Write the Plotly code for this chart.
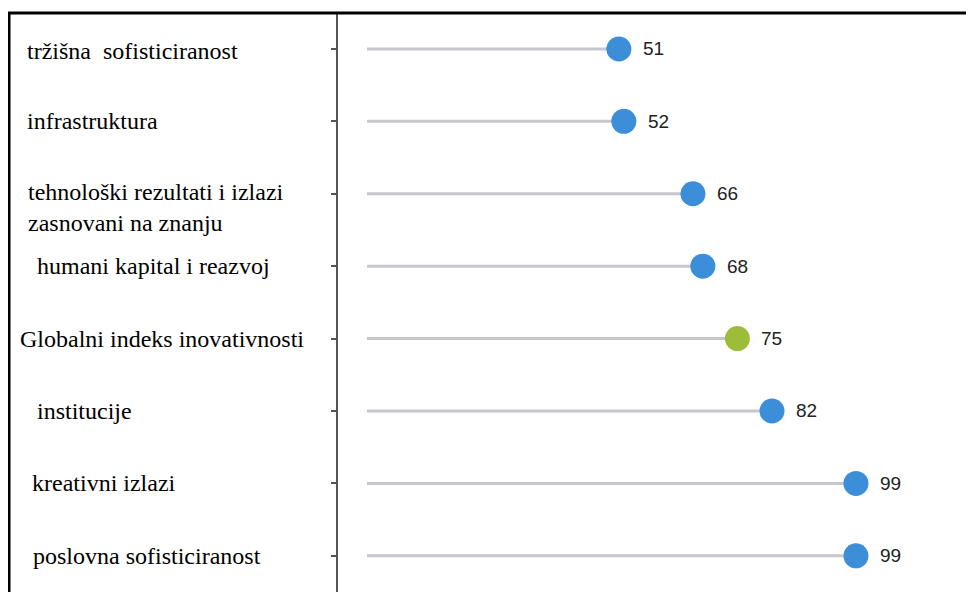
import plotly.graph_objects as go

# Datos del gráfico
categorias = [
    "tržišna  sofisticiranost",
    "infrastruktura",
    "tehnološki rezultati i izlazi<br>zasnovani na znanju",
    "humani kapital i reazvoj",
    "Globalni indeks inovativnosti",
    "institucije",
    "kreativni izlazi",
    "poslovna sofisticiranost",
]
valores = [51, 52, 66, 68, 75, 82, 99, 99]
destacado = "Globalni indeks inovativnosti"

AZUL = "#3d8ed8"
VERDE = "#9dbd3a"
GRIS_LINEA = "#c6c6cf"

# la página tiene 8 px de margen en el body
OFF = 8
ANCHO, ALTO = 974 - OFF, 592 - OFF
M_IZQ, M_SUP = 338 - OFF, 14 - OFF
ANCHO_AREA = ANCHO - M_IZQ
ALTO_AREA = ALTO - M_SUP


def px(x):
    return (x - OFF - M_IZQ) / ANCHO_AREA


def py(y):
    return 1 - (y - OFF - M_SUP) / ALTO_AREA


# sangría de cada etiqueta (px) respecto al margen izquierdo
sangria = [0, 0, 1, 10, -7, 10, 5, 6]
desplaz_y = [-2, 0, -14, 0, 0, 0, 0, 0]

fig = go.Figure()

# Líneas (palitos)
xs, ys = [], []
for c, v in zip(categorias, valores):
    xs += [0, v, None]
    ys += [c, c, None]
fig.add_trace(
    go.Scatter(
        x=xs,
        y=ys,
        mode="lines",
        line=dict(color=GRIS_LINEA, width=3),
        hoverinfo="skip",
        showlegend=False,
    )
)

# Puntos
colores = [VERDE if c == destacado else AZUL for c in categorias]
fig.add_trace(
    go.Scatter(
        x=valores,
        y=categorias,
        mode="markers",
        marker=dict(size=25, color=colores),
        showlegend=False,
    )
)

anotaciones = []
for i, (c, v) in enumerate(zip(categorias, valores)):
    anotaciones.append(
        dict(
            x=v,
            y=c,
            xref="x",
            yref="y",
            text=str(v),
            showarrow=False,
            xanchor="left",
            xshift=22,
            font=dict(family="Liberation Sans, Arial", size=19, color="#222222"),
        )
    )
    anotaciones.append(
        dict(
            x=px(25),
            y=c,
            xref="paper",
            yref="y",
            text=c,
            showarrow=False,
            xanchor="left",
            align="left",
            xshift=sangria[i],
            yshift=desplaz_y[i],
            font=dict(family="Liberation Serif, Times New Roman", size=24, color="#000000"),
        )
    )

fig.update_layout(
    width=ANCHO,
    height=ALTO,
    margin=dict(l=M_IZQ, r=0, t=M_SUP, b=0),
    paper_bgcolor="white",
    plot_bgcolor="white",
    annotations=anotaciones,
    xaxis=dict(
        range=[-5.87, 122.9],
        visible=False,
        showgrid=False,
        zeroline=False,
    ),
    yaxis=dict(
        type="category",
        categoryorder="array",
        categoryarray=categorias,
        range=[7.5, -0.483],
        showgrid=False,
        zeroline=False,
        showticklabels=False,
        showline=True,
        linecolor="#555555",
        linewidth=2,
        ticks="outside",
        ticklen=5,
        tickwidth=2,
        tickcolor="#555555",
    ),
    shapes=[
        dict(
            type="line",
            xref="paper",
            yref="paper",
            x0=px(8),
            x1=px(990),
            y0=py(13),
            y1=py(13),
            line=dict(color="black", width=3),
        ),
        dict(
            type="line",
            xref="paper",
            yref="paper",
            x0=px(9),
            x1=px(9),
            y0=py(12),
            y1=py(600),
            line=dict(color="black", width=3),
        ),
    ],
)

fig.write_html("out.html")
